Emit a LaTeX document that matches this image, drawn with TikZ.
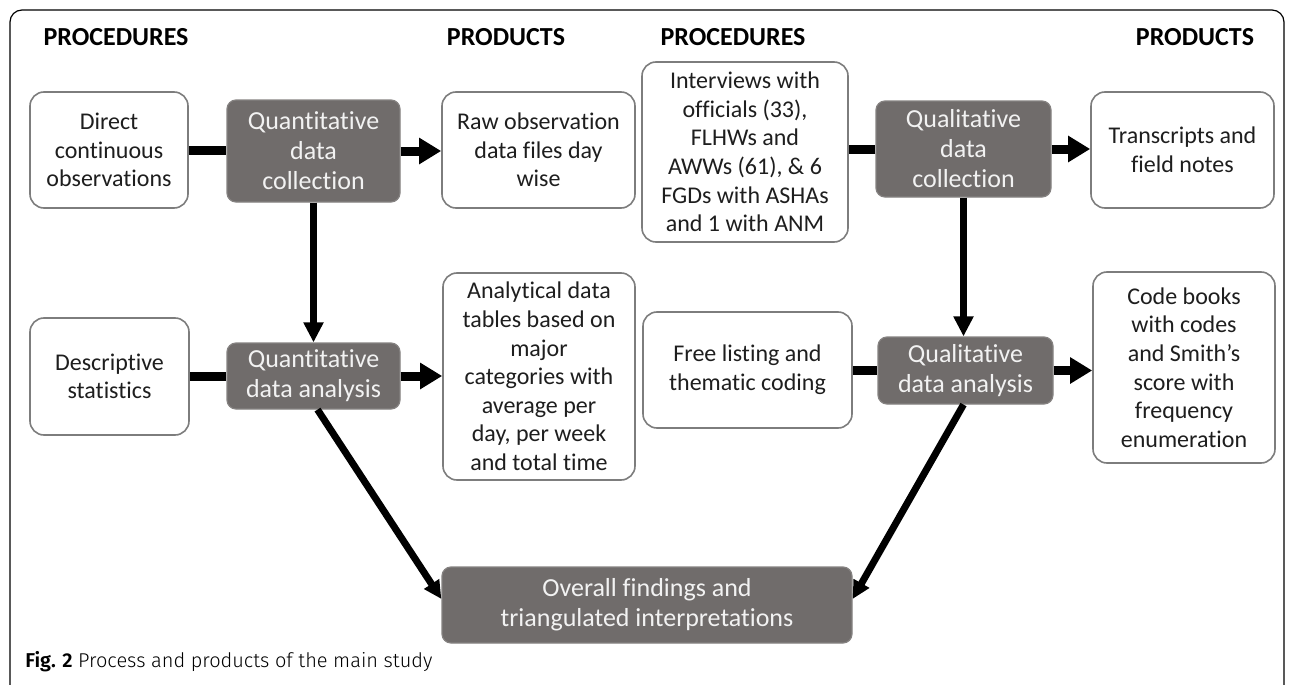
\documentclass[tikz,border=0pt]{standalone}
\usepackage{fontspec}
\setmainfont{Carlito}[Ligatures={NoCommon,NoRare,NoContextual}]
\newfontfamily\capfont{Fira Sans Light}[BoldFont={Fira Sans SemiBold}]
\usetikzlibrary{arrows.meta}
\definecolor{boxdark}{RGB}{112,108,107}
\definecolor{boxline}{RGB}{125,125,125}
\definecolor{lighttext}{RGB}{242,242,242}
\definecolor{bodytext}{RGB}{30,30,30}
\tikzset{
  whitebox/.style={draw=boxline, line width=0.8pt, fill=white, rounded corners=7pt,
    align=center, inner sep=0pt, text=bodytext, font=\fontsize{12}{14.3}\selectfont},
  darkbox/.style={draw=boxdark!85!white, line width=0.6pt, fill=boxdark, rounded corners=4.5pt,
    align=center, inner sep=0pt, text=lighttext, font=\fontsize{13}{15}\selectfont},
  heading/.style={font=\bfseries\fontsize{13}{15}\selectfont, text=black},
  link/.style={line width=4.5pt},
  harrow/.style={line width=4.5pt, -{Triangle[length=11pt,width=12.5pt]}},
  varrow/.style={line width=3.5pt, -{Triangle[length=10pt,width=9.5pt]}},
  darrow/.style={line width=3.5pt, -{Triangle[length=9pt,width=8.5pt]}},
  frameline/.style={line width=0.6pt, rounded corners=6pt},
}
\begin{document}
\begin{tikzpicture}[x=0.5pt,y=-0.5pt]
\useasboundingbox (0,0) rectangle (1292,685);
\draw[frameline] (10,685) -- (10,10) -- (1284,10) -- (1284,685);

% headings
\node[heading] (h1) at (116,37) {PROCEDURES};
\node[heading] (h2) at (506,37) {PRODUCTS};
\node[heading] (h3) at (733,37) {PROCEDURES};
\node[heading] (h4) at (1195,37) {PRODUCTS};

% top row
\node[whitebox, minimum width=79pt, minimum height=58pt] (direct) at (109,150) {Direct\\continuous\\observations};
\node[darkbox, minimum width=86.5pt, minimum height=51pt] (qncoll) at (313.5,151) {Quantitative\\data\\collection};
\node[whitebox, minimum width=96.5pt, minimum height=58pt] (raw) at (538.5,150) {Raw observation\\data files day\\wise};
\node[whitebox, minimum width=103pt, minimum height=90pt] (interv) at (745,152) {Interviews with\\officials (33),\\FLHWs and\\AWWs (61), \& 6\\FGDs with ASHAs\\and 1 with ANM};
\node[darkbox, minimum width=87.5pt, minimum height=48pt] (qlcoll) at (963.5,149) {Qualitative\\data\\collection};
\node[whitebox, minimum width=91.5pt, minimum height=58pt] (trans) at (1182.5,150) {Transcripts and\\field notes};

% second row
\node[whitebox, minimum width=79.5pt, minimum height=58.5pt] (desc) at (109.5,376.5) {Descriptive\\statistics};
\node[darkbox, minimum width=86.5pt, minimum height=33pt] (qnana) at (313.5,376) {Quantitative\\data analysis};
\node[whitebox, minimum width=96pt, minimum height=103.5pt] (anal) at (539,376.5) {Analytical data\\tables based on\\major\\categories with\\average per\\day, per week\\and total time};
\node[whitebox, minimum width=104.5pt, minimum height=58pt] (free) at (747.5,370) {Free listing and\\thematic coding};
\node[darkbox, minimum width=87.5pt, minimum height=33.5pt] (qlana) at (965.5,370.5) {Qualitative\\data analysis};
\node[whitebox, minimum width=91pt, minimum height=95.5pt] (code) at (1184,367.5) {Code books\\with codes\\and Smith’s\\score with\\frequency\\enumeration};

% bottom
\node[darkbox, minimum width=205pt, minimum height=38pt] (overall) at (647,605) {Overall findings and\\triangulated interpretations};

% caption
\node[anchor=base west, inner sep=0pt, font=\capfont\fontsize{10}{12}\selectfont] (cap) at (25,667) {\textbf{Fig. 2} Process and products of the main study};

% connectors
\draw[link] (direct.east) -- (direct.east -| qncoll.west);
\draw[harrow] (qncoll.east) -- (qncoll.east -| raw.west);
\draw[link] (qlcoll.west) -- (qlcoll.west -| interv.east);
\draw[harrow] (qlcoll.east) -- (qlcoll.east -| trans.west);

\draw[varrow] (qncoll.south) -- (qnana.north);
\draw[varrow] (qlcoll.south) -- (qlcoll.south |- qlana.north);

\draw[link] (desc.east) -- (desc.east -| qnana.west);
\draw[harrow] (qnana.east) -- (qnana.east -| anal.west);
\draw[link] (free.east) -- (free.east -| qlana.west);
\draw[harrow] (qlana.east) -- (qlana.east -| code.west);

\draw[darrow] ([xshift=2pt]qnana.south) -- ([yshift=3pt]overall.west);
\draw[darrow] ([xshift=-1pt]qlana.south) -- ([yshift=3pt]overall.east);
\end{tikzpicture}
\end{document}
